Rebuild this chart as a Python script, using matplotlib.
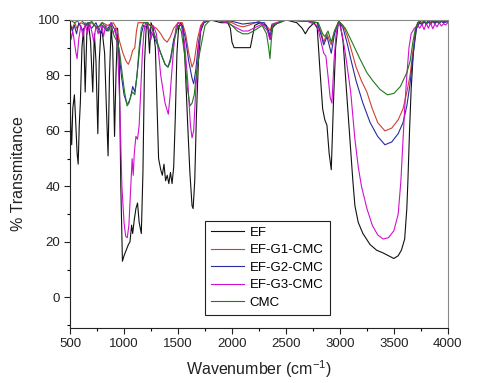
import numpy as np
import matplotlib
matplotlib.use('Agg')
import matplotlib.pyplot as plt
from matplotlib.ticker import MultipleLocator

plt.rcParams['font.family'] = ['Liberation Sans', 'DejaVu Sans']
plt.rcParams['mathtext.fontset'] = 'custom'
plt.rcParams['mathtext.rm'] = 'Liberation Sans'

# Tail (3740-4000) is noisy near the baseline for every sample
tail_wn = [3740, 3760, 3780, 3800, 3820, 3840, 3860, 3880, 3900, 3920, 3940, 3960, 3980, 4000]

# EF
ef_wn = [500, 508, 515, 525, 540, 550, 565, 575, 585, 595, 610, 625, 640, 655, 670, 690, 710, 725, 740,
         757, 770, 785, 800, 820, 835, 852, 865, 880, 895, 912, 925, 940, 955, 970, 985, 1000, 1020,
         1040, 1055, 1070, 1080, 1095, 1110, 1125, 1140, 1160, 1175, 1190, 1205, 1220, 1236, 1250,
         1270, 1290, 1305, 1320, 1340, 1355, 1370, 1385, 1400, 1415, 1430, 1445, 1460, 1475, 1490,
         1505, 1525, 1545, 1565, 1590, 1610, 1630, 1640, 1655, 1670, 1690, 1710, 1740, 1800, 1900,
         1960, 1985, 2000, 2020, 2100, 2170, 2190, 2210, 2260, 2320, 2340, 2355, 2370, 2420, 2500,
         2600, 2650, 2680, 2710, 2760, 2790, 2815, 2840, 2860, 2880, 2900, 2920, 2940, 2960, 2985,
         3000, 3030, 3060, 3093, 3120, 3139, 3170, 3213, 3280, 3340, 3400, 3450, 3500, 3540, 3570,
         3600, 3620, 3630, 3645, 3660, 3680, 3700, 3720] + tail_wn
ef_t = [72, 60, 55, 68, 73, 65, 52, 48, 62, 70, 90, 97, 74, 95, 99, 92, 74, 95, 85,
        59, 85, 96, 95, 88, 70, 51, 80, 97, 90, 58, 80, 97, 85, 40, 13, 15, 17,
        19, 20, 26, 23, 28, 32, 34, 27, 23, 45, 85, 97, 99, 88, 99,
        97, 90, 70, 50, 46, 44, 48, 42, 44, 41, 45, 41, 47, 65, 88,
        97, 99, 97, 85, 62, 45, 33, 32, 42, 65, 86, 96, 99, 100, 99,
        99, 97, 92, 90, 90, 90, 94, 98, 99, 98, 95, 93, 97, 99, 100,
        99, 97, 95, 97, 99, 97, 82, 68, 64, 62, 52, 46, 70, 90, 99,
        99, 92, 75, 57, 42, 33, 27, 23, 19, 17, 16, 15, 14, 15, 17,
        21, 32, 42, 60, 75, 88, 96, 99] + \
       [99, 98.5, 99.5, 98.8, 99.6, 99, 99.8, 99.2, 99.6, 99.1, 99.7, 99.3, 99.6, 99.5]

# EF-G1-CMC
g1_wn = [500, 520, 545, 560, 600, 650, 700, 750, 800, 850, 900, 930, 960, 990, 1020, 1040, 1060,
         1080, 1100, 1115, 1130, 1200, 1250, 1300, 1340, 1370, 1400, 1430, 1460, 1500, 1540, 1570,
         1600, 1630, 1650, 1680, 1710, 1750, 1900, 2000, 2050, 2100, 2150, 2250, 2340, 2355, 2370,
         2500, 2700, 2790, 2830, 2850, 2880, 2920, 2950, 2990, 3030, 3070, 3100, 3150, 3200, 3250,
         3300, 3350, 3417, 3480, 3540, 3585, 3620, 3650, 3680, 3710] + tail_wn
g1_t = [98, 97, 99, 97, 99, 98, 99, 97, 99, 98, 99, 97, 92, 88, 85, 84, 86,
        89, 90, 96, 99, 99, 98, 97, 95, 93, 92, 94, 97, 99, 99, 95,
        88, 83, 85, 93, 98, 100, 100, 99, 98, 97.5, 98, 99.5, 97, 96, 98.5,
        100, 99.5, 99, 95, 92, 95, 91, 96, 99.5, 98, 94, 90, 83, 78, 74,
        68, 63, 60, 61, 64, 68, 74, 80, 90, 97] + \
       [99.5, 98.6, 99.4, 98.2, 99.6, 98.9, 99.3, 98.5, 99.5, 99, 99.6, 98.8, 99.4, 99.2]

# EF-G2-CMC
g2_wn = [500, 520, 540, 560, 580, 620, 660, 700, 740, 780, 800, 840, 880, 920, 950, 975, 1000,
         1025, 1040, 1060, 1080, 1100, 1120, 1140, 1160, 1180, 1220, 1260, 1300, 1340, 1380, 1407,
         1430, 1460, 1500, 1540, 1570, 1600, 1630, 1645, 1665, 1690, 1720, 1760, 1900, 2000, 2100,
         2200, 2300, 2340, 2355, 2370, 2500, 2700, 2790, 2830, 2850, 2880, 2920, 2950, 2990, 3030,
         3065, 3100, 3150, 3213, 3280, 3350, 3417, 3480, 3540, 3585, 3620, 3650, 3680, 3710] + tail_wn
g2_t = [99, 96, 98, 95, 99, 96, 99, 97, 99, 95, 98, 96, 99, 96, 90, 80, 73,
        70, 70, 72, 76, 74, 80, 88, 95, 98, 97, 95, 92, 88, 84, 83,
        86, 93, 98, 98, 93, 85, 79, 77, 82, 92, 98, 100, 100, 99.5, 98.5,
        99, 99, 96, 94, 98, 100, 99.5, 99, 94, 91, 94, 88, 95, 99.5, 97,
        92, 86, 78, 70, 63, 58, 55, 56, 59, 63, 69, 77, 88, 97] + \
       [99, 98.2, 99.5, 98.6, 99.2, 98.4, 99.6, 98.9, 99.3, 98.7, 99.5, 99, 99.2, 99.4]

# EF-G3-CMC
g3_wn = [500, 510, 525, 540, 555, 565, 580, 600, 620, 640, 660, 680, 700, 720, 740, 760, 790, 810,
         830, 860, 880, 900, 920, 940, 960, 980, 1000, 1015, 1030, 1045, 1060, 1075, 1085, 1095,
         1110, 1125, 1140, 1155, 1170, 1185, 1200, 1230, 1250, 1270, 1300, 1320, 1340, 1360, 1380,
         1395, 1410, 1425, 1440, 1460, 1480, 1500, 1530, 1560, 1590, 1615, 1630, 1645, 1665, 1690,
         1710, 1740, 1850, 1950, 2000, 2050, 2100, 2150, 2200, 2280, 2330, 2350, 2365, 2380, 2500,
         2700, 2790, 2820, 2850, 2870, 2889, 2910, 2926, 2945, 2965, 2990, 3020, 3050, 3100, 3139,
         3170, 3200, 3250, 3300, 3350, 3400, 3450, 3500, 3540, 3565, 3585, 3600, 3620, 3640, 3660,
         3690, 3720] + tail_wn
g3_t = [97, 93, 96, 92, 88, 86, 93, 98, 94, 99, 95, 99, 96, 92, 98, 95, 99, 94,
        98, 96, 99, 95, 97, 90, 70, 40, 27, 22, 21.5, 26, 38, 50, 44, 52,
        58, 57, 62, 75, 88, 96, 99, 97, 93, 98, 95, 88, 80, 75, 70,
        68, 66, 72, 80, 90, 97, 99, 98, 92, 78, 62, 57.5, 60, 75, 90,
        97, 99.5, 100, 99, 98, 97, 96, 96, 97, 98.5, 96, 93, 95, 98.5, 100,
        99.5, 98, 93, 88, 87, 80, 72, 70, 85, 95, 99.5, 95, 88, 74, 57,
        47, 40, 32, 26, 22.5, 21, 21.5, 24, 30, 42, 57, 68, 80, 90, 95,
        97, 98] + \
       [97, 98.5, 96.5, 98.8, 97, 99, 96.8, 98.5, 97.5, 99, 97.8, 98.6, 98.2, 99]

# CMC
cmc_wn = [500, 540, 600, 650, 700, 750, 800, 850, 880, 910, 940, 960, 985, 1005, 1028, 1045, 1065,
          1080, 1100, 1120, 1140, 1160, 1180, 1220, 1260, 1300, 1340, 1380, 1407, 1430, 1460, 1500,
          1530, 1560, 1585, 1611, 1630, 1650, 1675, 1700, 1720, 1750, 1800, 1950, 2000, 2050, 2100,
          2150, 2200, 2280, 2320, 2340, 2352, 2365, 2380, 2500, 2700, 2800, 2840, 2860, 2890, 2920,
          2950, 2990, 3050, 3100, 3185, 3250, 3306, 3370, 3440, 3500, 3560, 3620, 3650, 3676, 3700,
          3730] + tail_wn
cmc_t = [100, 99, 100, 98, 99.5, 97, 99, 96, 98, 94, 92, 88, 80, 74, 69, 70, 73,
         74, 73, 80, 90, 97, 99, 99, 97, 93, 88, 84, 83, 85, 92, 98,
         96, 88, 76, 69, 70, 73, 82, 88, 92, 98, 100, 99.5, 98, 96, 95,
         95, 96, 98, 95, 90, 86, 93, 98, 100, 99.5, 99, 95, 94, 96, 92,
         96, 99.5, 97, 93, 86, 81, 78, 75, 73, 73.5, 76, 81, 85, 92, 97,
         99.5] + \
        [99.6, 99.1, 99.7, 99, 99.5, 99.2, 99.8, 99.3, 99.6, 99, 99.7, 99.4, 99.6, 99.5]

series = [
    ('EF', ef_wn, ef_t, '#111111'),
    ('EF-G1-CMC', g1_wn, g1_t, '#d04030'),
    ('EF-G2-CMC', g2_wn, g2_t, '#2a2aa0'),
    ('EF-G3-CMC', g3_wn, g3_t, '#d010d0'),
    ('CMC', cmc_wn, cmc_t, '#1f7a1f'),
]

fig = plt.figure(figsize=(4.8, 3.83), dpi=100)
ax = fig.add_axes([0.146, 0.144, 0.787, 0.804])

for name, wn, t, c in series:
    ax.plot(wn, t, color=c, lw=0.8, label=name)

ax.set_xlim(500, 4000)
ax.set_ylim(-11, 100)
ax.xaxis.set_major_locator(MultipleLocator(500))
ax.xaxis.set_minor_locator(MultipleLocator(250))
ax.yaxis.set_major_locator(MultipleLocator(20))
ax.yaxis.set_minor_locator(MultipleLocator(10))
ax.tick_params(which='major', direction='out', length=4, width=0.8, labelsize=9.5,
               colors='#222222', pad=3)
ax.tick_params(which='minor', direction='out', length=2.5, width=0.8)
ax.tick_params(top=False, right=False, which='both')
for side in ['top', 'right']:
    ax.spines[side].set_color('#888888')
for side in ['left', 'bottom']:
    ax.spines[side].set_color('#222222')

ax.set_xlabel('Wavenumber (cm$^{\\mathregular{-1}}$)', fontsize=11.5, color='#222222', labelpad=6)
ax.set_ylabel('% Transmitance', fontsize=11.5, color='#222222', labelpad=9)

leg = ax.legend(loc='lower left', bbox_to_anchor=(0.357, 0.042), borderaxespad=0,
                fancybox=False, edgecolor='#222222', framealpha=1, fontsize=9.5,
                handlelength=2.5, labelspacing=0.4, handletextpad=0.45, borderpad=0.45)
leg.get_frame().set_linewidth(0.8)

fig.savefig('out.png', dpi=100)
